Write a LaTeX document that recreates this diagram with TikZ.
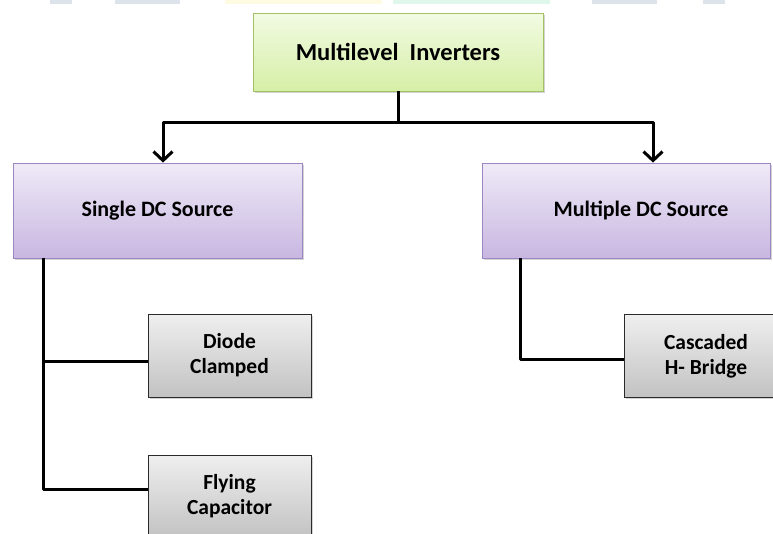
\documentclass[tikz,border=0pt]{standalone}
\usepackage{fontspec}
\setmainfont{Carlito}
\usetikzlibrary{arrows.meta,shadows}
\definecolor{grnT}{HTML}{F2FBE3}
\definecolor{grnB}{HTML}{D6EFA6}
\definecolor{grnD}{HTML}{A3C266}
\definecolor{purT}{HTML}{EFEAF7}
\definecolor{purB}{HTML}{C8B7E1}
\definecolor{purD}{HTML}{9D87C2}
\definecolor{gryT}{HTML}{EFEFEF}
\definecolor{gryB}{HTML}{C2C2C2}
\definecolor{gryD}{HTML}{2A2A2A}
\definecolor{hlG}{HTML}{DCE3EA}
\definecolor{hlY}{HTML}{FFFBE0}
\definecolor{hlM}{HTML}{E0F8EC}
\tikzset{
  boxbase/.style={rectangle, inner sep=0pt, align=center, font=\bfseries,
    drop shadow={opacity=0.35, shadow xshift=1.5pt, shadow yshift=-1.5pt}},
  topbox/.style={boxbase, draw=grnD, line width=0.8pt, top color=grnT, bottom color=grnB,
    minimum width=290pt, minimum height=78pt, font=\fontsize{24.5}{28}\selectfont\bfseries},
  srcbox/.style={boxbase, draw=purD, line width=0.8pt, top color=purT, bottom color=purB,
    minimum width=289pt, minimum height=95pt, font=\fontsize{22}{26}\selectfont\bfseries},
  leafbox/.style={boxbase, draw=gryD, line width=0.9pt, top color=gryT, bottom color=gryB,
    minimum width=163pt, minimum height=83pt, font=\fontsize{21.5}{25}\selectfont\bfseries},
  conn/.style={line width=3pt, black, line join=round},
  arrowconn/.style={conn, -{Straight Barb[length=9pt,width=19pt]}}
}
\begin{document}
\begin{tikzpicture}[x=1pt,y=-1pt]
\useasboundingbox (0,0) rectangle (773,533);
\clip (0,0) rectangle (773,533);
% highlight remnants at the top edge
\fill[hlG] (50,0) rectangle (72,4);
\fill[hlG] (115,0) rectangle (180,4);
\fill[hlY] (225,0) rectangle (382,4);
\fill[hlM] (393,0) rectangle (550,4);
\fill[hlG] (592,0) rectangle (657,4);
\fill[hlG] (703,0) rectangle (725,4);

\node[topbox] (top) at (398,52) {Multilevel\ \ Inverters};
\node[srcbox] (sds) at (157.5,210.5) {Single DC Source};
\node[srcbox, minimum width=288pt] (mds) at (626,210.5) {\hspace*{30pt}Multiple DC Source};
\node[leafbox] (dc) at (229.5,355.5) {Diode\\Clamped};
\node[leafbox] (fc) at (229.5,496.5) {Flying\\Capacitor};
\node[leafbox] (cb) at (706,356) {Cascaded\\H- Bridge};

\coordinate (j) at (top.south |- 0,122);
\draw[conn] (top.south) -- (j);
\draw[arrowconn] (j) -| (163,0 |- sds.north);
\draw[arrowconn] (j) -| (653,0 |- mds.north);

\coordinate (ls) at (43,0 |- sds.south);
\draw[conn] (ls) |- ([yshift=-6pt]dc.west);
\draw[conn] (ls) |- ([yshift=7.5pt]fc.west);

\coordinate (rs) at (520,0 |- mds.south);
\draw[conn] (rs) |- ([yshift=-3pt]cb.west);
\end{tikzpicture}
\end{document}
